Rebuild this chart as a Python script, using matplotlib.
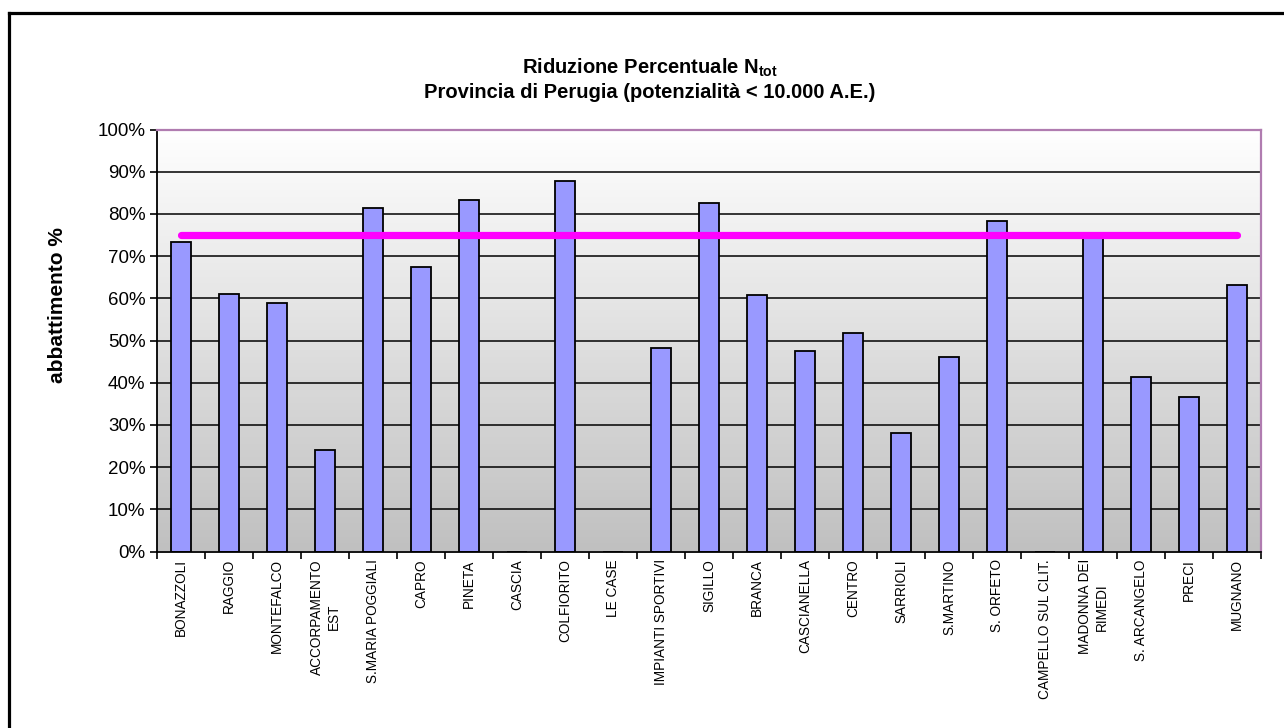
import numpy as np
import matplotlib
matplotlib.use("Agg")
import matplotlib.pyplot as plt
from matplotlib.ticker import PercentFormatter
from matplotlib.colors import LinearSegmentedColormap

plt.rcParams['font.family'] = ['Liberation Sans', 'DejaVu Sans']
plt.rcParams['mathtext.fontset'] = 'custom'
plt.rcParams['mathtext.rm'] = 'Liberation Sans'
plt.rcParams['mathtext.bf'] = 'Liberation Sans:bold'

categories = ["BONAZZOLI", "RAGGIO", "MONTEFALCO", "ACCORPAMENTO\nEST", "S.MARIA POGGIALI",
              "CAPRO", "PINETA", "CASCIA", "COLFIORITO", "LE CASE", "IMPIANTI SPORTIVI",
              "SIGILLO", "BRANCA", "CASCIANELLA", "CENTRO", "SARRIOLI", "S.MARTINO",
              "S. ORFETO", "CAMPELLO SUL CLIT.", "MADONNA DEI\nRIMEDI", "S. ARCANGELO",
              "PRECI", "MUGNANO"]
values = [73.4, 61.1, 58.8, 24.1, 81.5, 67.4, 83.4, np.nan, 87.7, np.nan, 48.3,
          82.5, 60.7, 47.4, 51.7, 28.0, 46.0, 78.3, np.nan, 75.5, 41.3, 36.5, 63.1]
threshold = [75.0] * len(categories)
yticks = [0, 10, 20, 30, 40, 50, 60, 70, 80, 90, 100]

W, H = 1284, 728
fig = plt.figure(figsize=(W / 100, H / 100), dpi=100)
L, R, T, B = 157.3, 1261.3, 129.5, 551.5
ax = fig.add_axes([L / W, 1 - B / H, (R - L) / W, (B - T) / H])

n = len(categories)
x = np.arange(n)
ax.set_xlim(-0.5, n - 0.5)
ax.set_ylim(0, 100)

# gradient background
grad = np.linspace(0, 1, 256).reshape(-1, 1)
cmap = LinearSegmentedColormap.from_list("g", ["#c0c0c0", "#ffffff"])
ax.imshow(grad, cmap=cmap, aspect='auto', extent=[-0.5, n - 0.5, 0, 100],
          origin='lower', zorder=0, vmin=0, vmax=1)

for t in yticks[1:-1]:
    ax.axhline(t, color='black', lw=1.1, zorder=1)

vals = np.array(values, dtype=float)
ax.bar(x, np.nan_to_num(vals), width=0.42, color='#9999ff', edgecolor='black', linewidth=1.3, zorder=2)
ax.plot(x, threshold, color='#ff00ff', lw=5.2, solid_capstyle='round', zorder=3)

ax.set_yticks(yticks)
ax.yaxis.set_major_formatter(PercentFormatter(decimals=0))
ax.tick_params(axis='y', labelsize=13.5, length=5, width=1.2, direction='out', pad=3.5)
ax.set_xticks(x)
ax.set_xticklabels(categories, rotation=90, fontsize=9.8, ha='center', va='top', multialignment='center')
ax.tick_params(axis='x', length=0, pad=5.5)
ax.set_xticks(np.arange(-0.5, n), minor=True)
ax.tick_params(axis='x', which='minor', length=5, width=1.2, direction='out')

for s in ['left', 'bottom']:
    ax.spines[s].set_color('black')
    ax.spines[s].set_linewidth(1.3)
for s in ['top', 'right']:
    ax.spines[s].set_color('#b07cb0')
    ax.spines[s].set_linewidth(1.6)

fig.text(58 / W, 1 - 305 / H, "abbattimento %", rotation=90, ha='center', va='center',
         fontsize=15, fontweight='bold')

fig.text(650 / W, 1 - 68 / H, r"Riduzione Percentuale N$_{\mathbf{tot}}$", ha='center', va='center',
         fontsize=14.5, fontweight='bold')
fig.text(650 / W, 1 - 92 / H, "Provincia di Perugia (potenzialità < 10.000 A.E.)", ha='center', va='center',
         fontsize=14.5, fontweight='bold')

# outer chart border (left and top visible)
fig.add_artist(plt.Line2D([8.5 / W, 8.5 / W], [0, 1 - 12.5 / H], transform=fig.transFigure,
                          color='black', lw=2.3, solid_capstyle='projecting'))
fig.add_artist(plt.Line2D([8.5 / W, 1], [1 - 12.5 / H, 1 - 12.5 / H], transform=fig.transFigure,
                          color='black', lw=2.3, solid_capstyle='projecting'))

fig.savefig("out.png", dpi=100)
